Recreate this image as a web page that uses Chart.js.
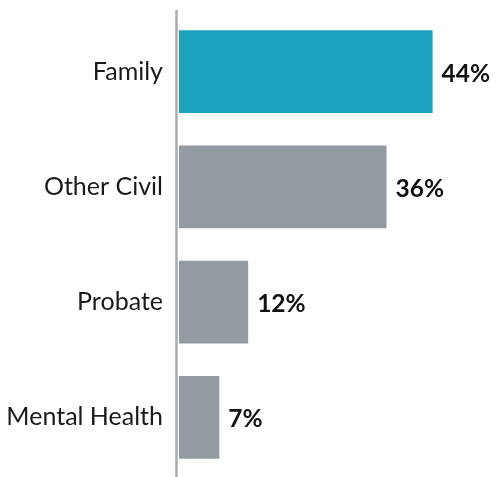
<!DOCTYPE html>
<html>
<head>
<meta charset="utf-8">
<script src="https://cdn.jsdelivr.net/npm/chart.js@4"></script>
<style>
  html, body { margin: 0; padding: 0; background: #fff; }
  #wrap { width: 496px; height: 477px; }
</style>
</head>
<body>
<div id="wrap"><canvas id="chart"></canvas></div>
<script>
const categories = ['Family', 'Other Civil', 'Probate', 'Mental Health'];
const shares = [44, 36, 12, 7];
const barColors = ['#1ca1bf', '#939aa1', '#939aa1', '#939aa1'];

// value labels at the end of each bar
const valueLabels = {
  id: 'valueLabels',
  afterDatasetsDraw(chart) {
    const ctx = chart.ctx;
    const meta = chart.getDatasetMeta(0);
    ctx.save();
    ctx.font = 'bold 24.5px Lato';
    ctx.fillStyle = '#111';
    ctx.textBaseline = 'middle';
    meta.data.forEach((bar, i) => {
      ctx.fillText(shares[i] + '%', bar.x + 9, bar.y + 2);
    });
    ctx.restore();
  }
};

// axis line runs a bit past the plot area, like the original
const axisLine = {
  id: 'axisLine',
  afterDraw(chart) {
    const ctx = chart.ctx;
    const x = chart.chartArea.left;
    ctx.save();
    ctx.strokeStyle = '#a7acb1';
    ctx.lineWidth = 2.5;
    ctx.beginPath();
    ctx.moveTo(x - 2.5, 10);
    ctx.lineTo(x - 2.5, 477);
    ctx.stroke();
    ctx.restore();
  }
};

new Chart(document.getElementById('chart'), {
  type: 'bar',
  data: {
    labels: categories,
    datasets: [{
      data: shares,
      backgroundColor: barColors,
      barPercentage: 0.72,
      categoryPercentage: 1,
    }]
  },
  options: {
    indexAxis: 'y',
    responsive: true,
    maintainAspectRatio: false,
    animation: false,
    layout: { padding: { top: 14, bottom: 2, left: 0, right: 0 } },
    plugins: { legend: { display: false }, tooltip: { enabled: false } },
    scales: {
      x: {
        display: false,
        min: 0,
        max: 55,
      },
      y: {
        afterFit(scale) {
          scale.width = 179;
          scale.paddingTop = 0;
          scale.paddingBottom = 0;
        },
        grid: { display: false, drawTicks: false },
        border: { display: false },
        ticks: {
          color: '#1a1a1a',
          padding: 16,
          font: { family: 'Lato', size: 25 },
        }
      }
    }
  },
  plugins: [valueLabels, axisLine]
});
</script>
</body>
</html>
